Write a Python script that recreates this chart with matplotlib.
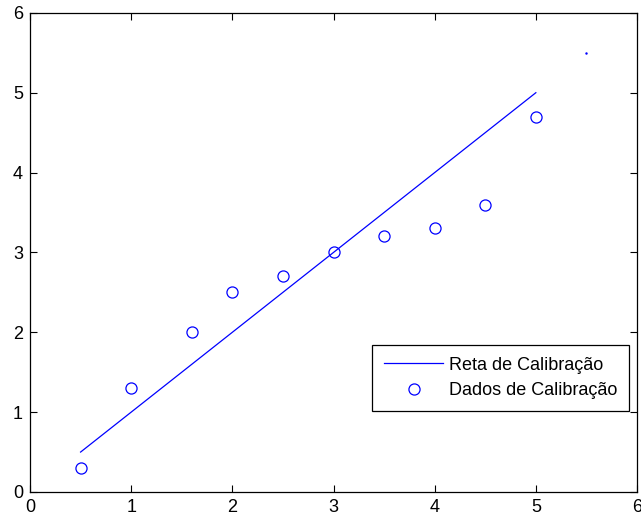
import matplotlib
matplotlib.use("Agg")
import matplotlib.pyplot as plt

# Calibration data
x_dados = [0.5, 1.0, 1.6, 2.0, 2.5, 3.0, 3.5, 4.0, 4.5, 5.0]
y_dados = [0.3, 1.3, 2.0, 2.5, 2.7, 3.0, 3.2, 3.3, 3.6, 4.7]
x_reta = [0.5, 5.0]
y_reta = [0.5, 5.0]
x_ponto = [5.5]
y_ponto = [5.5]
ticks = [0, 1, 2, 3, 4, 5, 6]

plt.rcParams["font.family"] = ["Liberation Sans", "DejaVu Sans"]
plt.rcParams["font.size"] = 13

fig = plt.figure(figsize=(6.41, 5.18), dpi=100)
ax = fig.add_axes([0.0468, 0.0502, 0.947, 0.925])

ax.plot(x_reta, y_reta, color="blue", linewidth=0.9, label="Reta de Calibração")
ax.plot(x_dados, y_dados, linestyle="none", marker="o", markersize=8,
        markerfacecolor="none", markeredgecolor="blue", markeredgewidth=0.9,
        label="Dados de Calibração")
ax.plot(x_ponto, y_ponto, linestyle="none", marker=".", markersize=1.5, color="blue")

ax.set_xlim(0, 6)
ax.set_ylim(0, 6)
ax.set_xticks(ticks)
ax.set_yticks(ticks)
ax.tick_params(direction="in", length=5, width=0.8, top=True, right=True, pad=5)
for s in ax.spines.values():
    s.set_linewidth(0.9)

leg = ax.legend(loc="lower left", bbox_to_anchor=(0.5634, 0.169), fancybox=False,
                edgecolor="black", framealpha=1, borderaxespad=0, handlelength=3.3,
                handletextpad=0.3, borderpad=0.65, labelspacing=0.48)
leg.get_frame().set_linewidth(0.9)

fig.savefig("out.png", dpi=100)
